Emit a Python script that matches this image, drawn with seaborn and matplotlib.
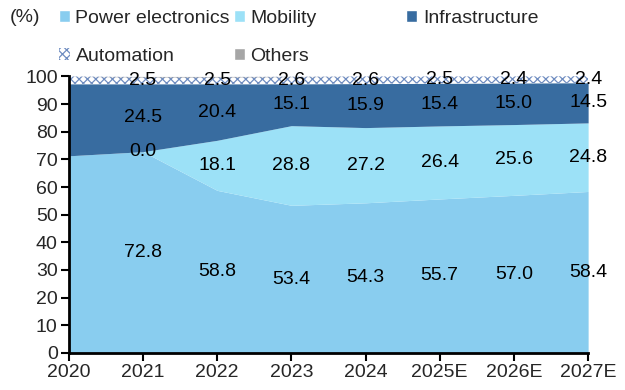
import matplotlib
matplotlib.use("Agg")
import matplotlib.pyplot as plt
import seaborn as sns
import numpy as np
from matplotlib.patches import Patch

years = ["2020", "2021", "2022", "2023", "2024", "2025E", "2026E", "2027E"]
power_electronics = [71.3, 72.8, 58.8, 53.4, 54.3, 55.7, 57.0, 58.4]
mobility = [0.0, 0.0, 18.1, 28.8, 27.2, 26.4, 25.6, 24.8]
infrastructure = [26.0, 24.5, 20.4, 15.1, 15.9, 15.4, 15.0, 14.5]
automation = [2.7, 2.5, 2.5, 2.6, 2.6, 2.5, 2.4, 2.4]
others = [0.0, 0.2, 0.2, 0.1, 0.0, 0.0, 0.0, 0.0]
series_names = ["Power electronics", "Mobility", "Infrastructure", "Automation", "Others"]

sns.set_theme(style="white")
plt.rcParams["font.family"] = ["Liberation Sans", "DejaVu Sans"]
plt.rcParams["hatch.color"] = "#6E8CC0"
plt.rcParams["hatch.linewidth"] = 0.9

colors = ["#89CDEF", "#9CE1F7", "#386CA0", "#FFFFFF", "#A6A6A6"]

fig = plt.figure(figsize=(6.25, 3.9), dpi=100)
ax = fig.add_axes([0.110, 0.095, 0.831, 0.709])

x = np.arange(len(years))
data = [power_electronics, mobility, infrastructure, automation, others]
polys = ax.stackplot(x, *data, colors=colors, linewidth=0)
polys[3].set_hatch("xxxx")
polys[3].set_edgecolor("#6E8CC0")
polys[3].set_linewidth(0)

fs = 14
cum = np.zeros(len(years))
for i, s in enumerate(data[:4]):
    s = np.array(s)
    for j in range(1, len(years)):
        yc = cum[j] + s[j] / 2
        ax.text(x[j], yc, f"{s[j]:.1f}", ha="center", va="center", fontsize=fs, color="black")
    cum = cum + s

ax.set_xlim(0, len(years) - 1)
ax.set_ylim(0, 100)
ax.set_yticks(np.arange(0, 101, 10))
ax.set_xticks(x)
ax.set_xticklabels(years)
ax.tick_params(axis="both", labelsize=fs, length=6, width=1.5, color="black", direction="out",
               bottom=True, left=True, pad=2)
for side in ["top", "right"]:
    ax.spines[side].set_visible(False)
for side in ["left", "bottom"]:
    ax.spines[side].set_color("black")
    ax.spines[side].set_linewidth(2)
ax.grid(False)

fig.text(0.016, 0.955, "(%)", fontsize=fs, ha="left", va="center")

handles = [Patch(facecolor=colors[i], label=series_names[i]) for i in range(5)]
handles[3] = Patch(facecolor="white", edgecolor="#6E8CC0", hatch="xxxx", linewidth=0, label="Automation")
cols = [[handles[0], handles[3]], [handles[1], handles[4]], [handles[2]]]
xs = [0.085, 0.365, 0.641]
for hs, xx in zip(cols, xs):
    fig.legend(handles=hs, loc="upper left", bbox_to_anchor=(xx, 0.99), frameon=False,
               fontsize=fs, handlelength=0.55, handleheight=0.55, handletextpad=0.3,
               labelspacing=1.1, borderaxespad=0, borderpad=0.3)

fig.savefig("out.png", dpi=100)
